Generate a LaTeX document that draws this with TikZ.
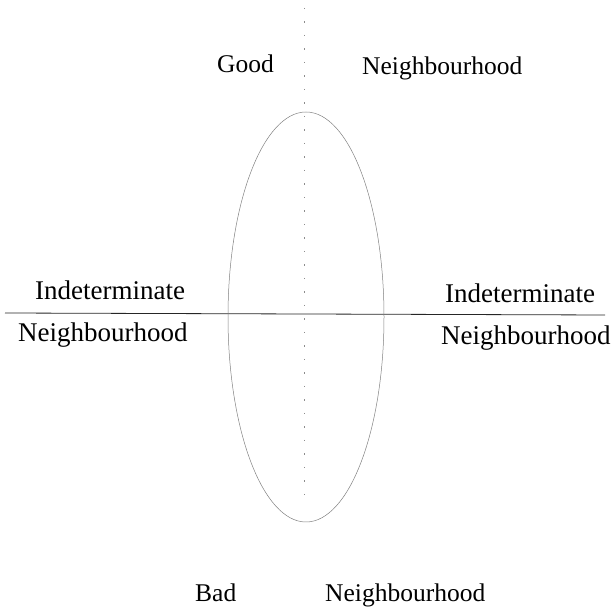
\documentclass[tikz,border=0pt]{standalone}
\usepackage{fontspec}
\setmainfont{Liberation Serif}
\tikzset{
  lbl/.style={anchor=base west, inner sep=0pt, font=\fontsize{25.5}{30}\selectfont},
  mlbl/.style={anchor=base west, inner sep=0pt, font=\fontsize{27}{32}\selectfont},
  axis/.style={line width=0.8pt, black!85},
  ell/.style={line width=0.5pt, black!50},
  vdots/.style={line width=0.6pt, black!45, dash pattern=on 1.5pt off 12pt}
}
\begin{document}
\begin{tikzpicture}[x=1pt,y=1pt]
\useasboundingbox (0,0) rectangle (613,613);
% labels
\node[lbl] (good) at (217,540) {Good};
\node[lbl] (goodn) at (362,538) {Neighbourhood};
\node[mlbl] (lind) at (35,313) {Indeterminate};
\node[mlbl] (lneigh) at (18,271) {Neighbourhood};
\node[mlbl] (rind) at (445,310) {Indeterminate};
\node[mlbl] (rneigh) at (441,268) {Neighbourhood};
\node[lbl] (bad) at (195,11) {Bad};
\node[lbl] (badn) at (325,11) {Neighbourhood};
% axes
\coordinate (hl) at (5,300);
\coordinate (hr) at (605,298);
\draw[axis] (hl) -- (hr);
\coordinate (vt) at (304,605);
\coordinate (vb) at (304,113);
\draw[vdots] (vt) -- (vb);
% ellipse
\coordinate (c) at (306,296);
\draw[ell] (c) ellipse [x radius=78, y radius=205];
\end{tikzpicture}
\end{document}
